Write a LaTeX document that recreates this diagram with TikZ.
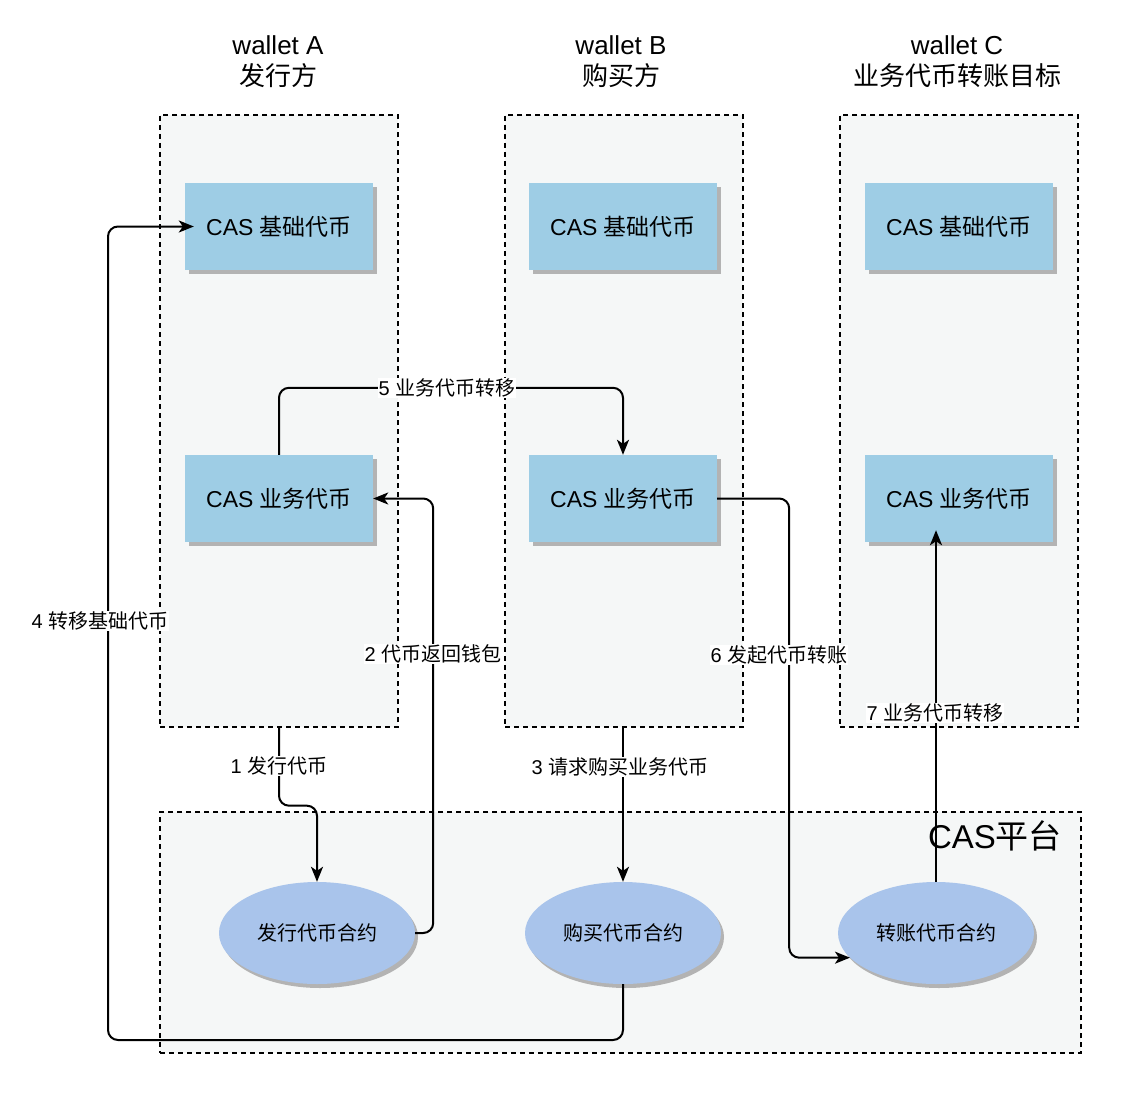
\documentclass[tikz,border=0pt]{standalone}
\usepackage{fontspec}
\setmainfont{Liberation Sans}
\newfontfamily\cjk{Noto Sans CJK SC}
\newcommand{\zh}[1]{{\cjk #1}}
\usetikzlibrary{arrows.meta,shadows,shapes.geometric}
\definecolor{wallfill}{HTML}{F5F7F7}
\definecolor{boxblue}{HTML}{9ECDE5}
\definecolor{ellblue}{HTML}{A9C4EB}
\definecolor{shgray}{HTML}{B3B3B3}
\begin{document}
\begin{tikzpicture}[x=1pt,y=-1pt,
  wallet/.style={draw=black, fill=wallfill, line width=1.4pt, dash pattern=on 5pt off 4pt, minimum width=238pt, minimum height=612pt, inner sep=0pt},
  platform/.style={draw=black, fill=wallfill, line width=1.4pt, dash pattern=on 5pt off 4pt, minimum width=921pt, minimum height=241pt, inner sep=0pt},
  tokbox/.style={fill=boxblue, minimum width=188pt, minimum height=87pt, inner sep=0pt, font=\fontsize{23}{27}\selectfont,
     drop shadow={shadow xshift=4pt, shadow yshift=-4pt, fill=shgray, opacity=1}},
  contract/.style={ellipse, fill=ellblue, minimum width=196pt, minimum height=102pt, inner sep=0pt, font=\fontsize{20}{24}\selectfont,
     drop shadow={shadow xshift=3pt, shadow yshift=-4pt, fill=shgray, opacity=1}},
  title/.style={align=center, font=\fontsize{26}{31}\selectfont},
  conn/.style={draw=black, line width=2pt, rounded corners=10pt},
  arr/.style={conn, -{Stealth[length=15pt, width=12pt, inset=4pt]}},
  lbl/.style={fill=white, inner sep=1pt, font=\fontsize{20}{24}\selectfont}
]
\useasboundingbox (0,0) rectangle (1148,1116);

% wallets and platform
\node[wallet] (wA) at (279,421) {};
\node[wallet] (wB) at (624,421) {};
\node[wallet] (wC) at (959,421) {};
\node[platform] (plat) at (620.5,932.5) {};
\node[font=\fontsize{33}{38}\selectfont, anchor=center] (platlbl) at (995,836) {CAS\zh{平台}};

% titles
\node[title] (tA) at (278,62) {wallet A\\\zh{发行方}};
\node[title] (tB) at (621,62) {wallet B\\\zh{购买方}};
\node[title] (tC) at (957,62) {wallet C\\\zh{业务代币转账目标}};

% token boxes
\node[tokbox] (aA) at (279,226.5) {CAS \zh{基础代币}};
\node[tokbox] (aB) at (623,226.5) {CAS \zh{基础代币}};
\node[tokbox] (aC) at (959,226.5) {CAS \zh{基础代币}};
\node[tokbox] (bA) at (279,498.5) {CAS \zh{业务代币}};
\node[tokbox] (bB) at (623,498.5) {CAS \zh{业务代币}};
\node[tokbox] (bC) at (959,498.5) {CAS \zh{业务代币}};

% contracts
\node[contract] (eA) at (317,933) {\zh{发行代币合约}};
\node[contract] (eB) at (623,933) {\zh{购买代币合约}};
\node[contract] (eC) at (936,933) {\zh{转账代币合约}};

% connectors
\coordinate (c4) at (108,1040);
\coordinate (t7) at ([yshift=12pt]bC.south);
\draw[arr] (wA.south) -- ++(0,78) -| (eA.north);
\draw[arr] (eA.east) -- ++(18,0) |- (bA.east);
\draw[arr] (eB.north |- wB.south) -- (eB.north);
\draw[arr] (eB.south) |- (c4) |- ([xshift=9pt]aA.west);
\draw[arr] (bA.north) -- ++(0,-67) -| (bB.north);
\draw[arr] (bB.east) -- ++(72,0) |- (eC.196.5);
\draw[arr] (eC.north) -- (eC.north |- t7);

% labels
\node[lbl] (l1) at (279,766) {1 \zh{发行代币}};
\node[lbl] (l2) at (433,654) {2 \zh{代币返回钱包}};
\node[lbl] (l3) at (620,767) {3 \zh{请求购买业务代币}};
\node[lbl] (l4) at (100,621) {4 \zh{转移基础代币}};
\node[lbl] (l5) at (447,388) {5 \zh{业务代币转移}};
\node[lbl] (l6) at (779,655) {6 \zh{发起代币转账}};
\node[lbl] (l7) at (935,713) {7 \zh{业务代币转移}};
\end{tikzpicture}
\end{document}
